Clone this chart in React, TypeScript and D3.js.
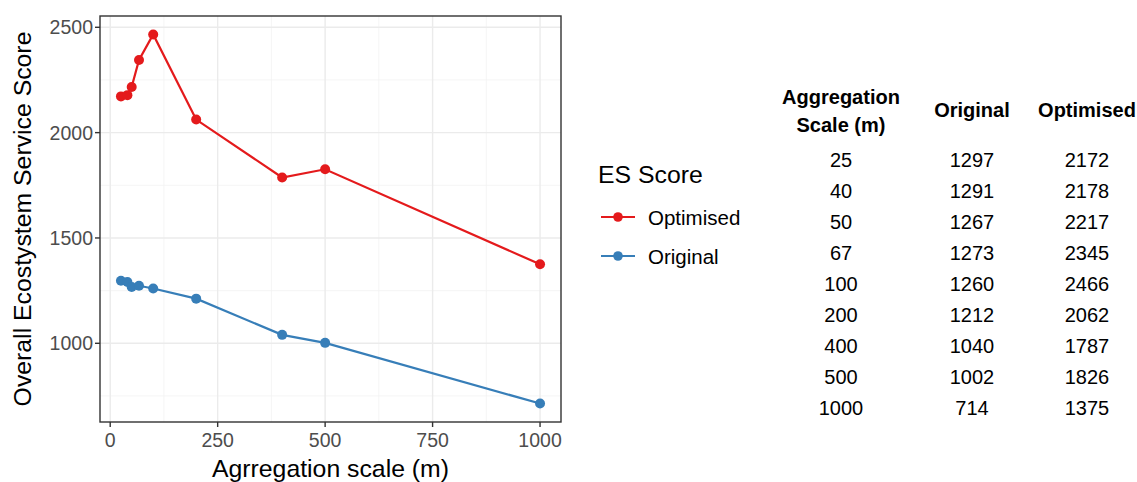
import React from "react";
import * as d3 from "d3";

const scales = [25, 40, 50, 67, 100, 200, 400, 500, 1000];
const original = [1297, 1291, 1267, 1273, 1260, 1212, 1040, 1002, 714];
const optimised = [2172, 2178, 2217, 2345, 2466, 2062, 1787, 1826, 1375];
const xTicks = [0, 250, 500, 750, 1000];
const yTicks = [1000, 1500, 2000, 2500];
const xMinor = [125, 375, 625, 875];
const yMinor = [750, 1250, 1750, 2250];
const seriesNames = ["Optimised", "Original"];
const seriesColors = ["#E41A1C", "#377EB8"];
const tableHeaders = [["Aggregation", "Scale (m)"], ["Original"], ["Optimised"]];

const W = 1137, H = 482;
const FONT = "'Liberation Sans', Arial, Helvetica, sans-serif";

export default function App() {
  const left = 100, right = 561, top = 16, bottom = 422;
  const xExt = d3.extent(scales) as [number, number];
  const xPad = (xExt[1] - xExt[0]) * 0.05;
  const allY = [...original, ...optimised];
  const yExt = d3.extent(allY) as [number, number];
  const yPad = (yExt[1] - yExt[0]) * 0.05;
  const x = d3.scaleLinear().domain([xExt[0] - xPad, xExt[1] + xPad]).range([left, right]);
  const y = d3.scaleLinear().domain([yExt[0] - yPad, yExt[1] + yPad]).range([bottom, top]);
  const line = d3.line<[number, number]>().x(d => x(d[0])).y(d => y(d[1]));
  const seriesData = [optimised, original];

  const colX = [841, 972, 1087];
  const rowY0 = 160, rowStep = 30.95;

  return (
    <svg width={W} height={H} style={{ position: "absolute", left: 0, top: 0, fontFamily: FONT }}>
      <rect width={W} height={H} fill="#fff" />
      {/* grid */}
      {xMinor.map(v => <line key={"xm" + v} x1={x(v)} x2={x(v)} y1={top} y2={bottom} stroke="#F3F3F3" strokeWidth={0.8} />)}
      {yMinor.map(v => <line key={"ym" + v} x1={left} x2={right} y1={y(v)} y2={y(v)} stroke="#F3F3F3" strokeWidth={0.8} />)}
      {xTicks.map(v => <line key={"xg" + v} x1={x(v)} x2={x(v)} y1={top} y2={bottom} stroke="#EBEBEB" strokeWidth={1.4} />)}
      {yTicks.map(v => <line key={"yg" + v} x1={left} x2={right} y1={y(v)} y2={y(v)} stroke="#EBEBEB" strokeWidth={1.4} />)}
      {/* series */}
      {seriesData.map((s, i) => (
        <g key={i}>
          <path d={line(scales.map((v, j) => [v, s[j]] as [number, number])) || ""} fill="none" stroke={seriesColors[i]} strokeWidth={2.2} />
          {scales.map((v, j) => <circle key={j} cx={x(v)} cy={y(s[j])} r={5} fill={seriesColors[i]} />)}
        </g>
      ))}
      {/* panel border */}
      <rect x={left} y={top} width={right - left} height={bottom - top} fill="none" stroke="#333333" strokeWidth={1.4} />
      {/* axes ticks */}
      {xTicks.map(v => (
        <g key={"xt" + v}>
          <line x1={x(v)} x2={x(v)} y1={bottom} y2={bottom + 5} stroke="#333333" strokeWidth={1.4} />
          <text x={x(v)} y={447} textAnchor="middle" fontSize={19.5} fill="#4D4D4D">{v}</text>
        </g>
      ))}
      {yTicks.map(v => (
        <g key={"yt" + v}>
          <line x1={left - 5} x2={left} y1={y(v)} y2={y(v)} stroke="#333333" strokeWidth={1.4} />
          <text x={left - 7} y={y(v) + 7} textAnchor="end" fontSize={19.5} fill="#4D4D4D">{v}</text>
        </g>
      ))}
      <text x={(left + right) / 2} y={477} textAnchor="middle" fontSize={24.8} fill="#000">Agrregation scale (m)</text>
      <text transform={`translate(31,${(top + bottom) / 2}) rotate(-90)`} textAnchor="middle" fontSize={24.8} fill="#000">Overall Ecostystem Service Score</text>
      {/* legend */}
      <text x={598} y={183} fontSize={24.8} fill="#000">ES Score</text>
      {seriesNames.map((n, i) => (
        <g key={n}>
          <line x1={601} x2={635} y1={217 + i * 39} y2={217 + i * 39} stroke={seriesColors[i]} strokeWidth={2.2} />
          <circle cx={618} cy={217 + i * 39} r={4.8} fill={seriesColors[i]} />
          <text x={648} y={224.5 + i * 39} fontSize={20.5} fill="#000">{n}</text>
        </g>
      ))}
      {/* table */}
      {tableHeaders.map((h, i) => (
        <text key={i} textAnchor="middle" fontSize={20} fontWeight="bold" fill="#000">
          {h.length === 2 ? (
            <>
              <tspan x={colX[i]} y={104}>{h[0]}</tspan>
              <tspan x={colX[i]} y={132}>{h[1]}</tspan>
            </>
          ) : (
            <tspan x={colX[i]} y={117}>{h[0]}</tspan>
          )}
        </text>
      ))}
      {scales.map((v, j) => (
        <g key={"r" + j}>
          {[v, original[j], optimised[j]].map((c, k) => (
            <text key={k} x={colX[k]} y={rowY0 + j * rowStep + 7} textAnchor="middle" fontSize={20} fill="#000">{c}</text>
          ))}
        </g>
      ))}
    </svg>
  );
}
